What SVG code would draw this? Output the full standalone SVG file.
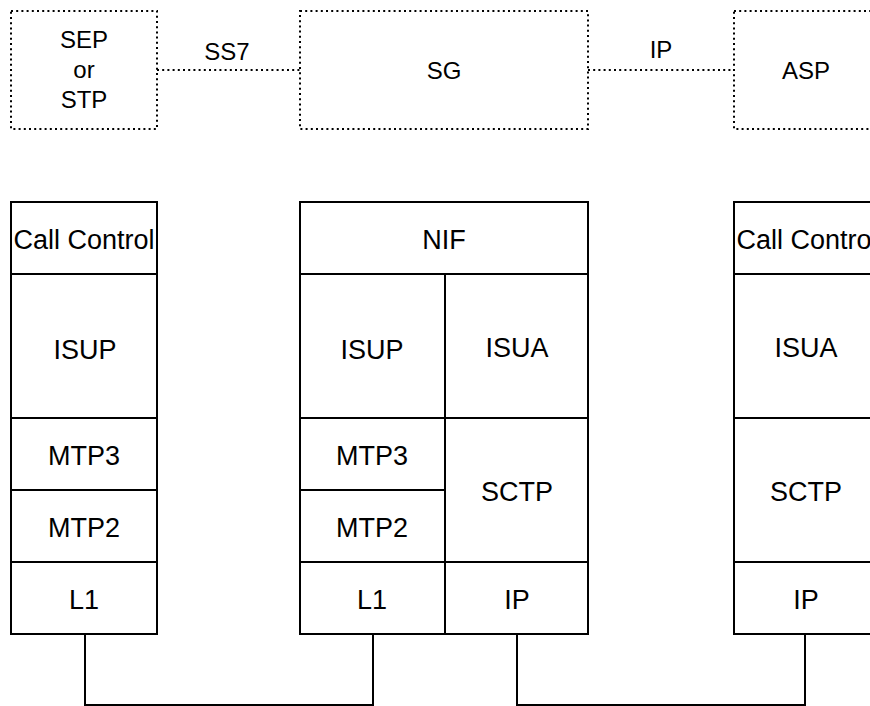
<svg xmlns="http://www.w3.org/2000/svg" width="870" height="706" viewBox="0 0 870 706">
<style>
.dot{fill:none;stroke:#000;stroke-width:2;stroke-dasharray:2 3.2}
.box{fill:#fff;stroke:#000;stroke-width:2}
.ln{fill:none;stroke:#000;stroke-width:2}
text{font-family:"Liberation Sans",Arial,sans-serif;fill:#000;text-anchor:middle}
.t{font-size:24px}
.s{font-size:27px}
</style>
<rect width="870" height="706" fill="#fff"/>
<g id="connectors">
<line class="dot" x1="157" y1="70" x2="300" y2="70"/>
<line class="dot" x1="588" y1="70" x2="734" y2="70"/>
<text class="t" x="227" y="60">SS7</text>
<text class="t" x="661" y="58">IP</text>
<polyline class="ln" points="85,634 85,705 373,705 373,634"/>
<polyline class="ln" points="517,634 517,705 805,705 805,634"/>
</g>
<g id="sep">
<rect class="dot" x="11" y="11" width="146" height="118"/>
<text class="t" x="84" y="48">SEP</text>
<text class="t" x="84" y="78">or</text>
<text class="t" x="84" y="108">STP</text>
</g>
<g id="sg">
<rect class="dot" x="300" y="11" width="288" height="118"/>
<text class="t" x="444" y="79">SG</text>
</g>
<g id="asp">
<rect class="dot" x="734" y="11" width="146" height="118"/>
<text class="t" x="806" y="79">ASP</text>
</g>
<g id="stack-left">
<rect class="box" x="11" y="202" width="146" height="432"/>
<line class="ln" x1="11" y1="274" x2="157" y2="274"/>
<line class="ln" x1="11" y1="418" x2="157" y2="418"/>
<line class="ln" x1="11" y1="490" x2="157" y2="490"/>
<line class="ln" x1="11" y1="562" x2="157" y2="562"/>
<text class="s" x="84" y="249">Call Control</text>
<text class="s" x="85" y="359">ISUP</text>
<text class="s" x="84" y="465">MTP3</text>
<text class="s" x="84" y="537">MTP2</text>
<text class="s" x="84" y="609">L1</text>
</g>
<g id="stack-sg">
<rect class="box" x="300" y="202" width="288" height="432"/>
<line class="ln" x1="300" y1="274" x2="588" y2="274"/>
<line class="ln" x1="445" y1="274" x2="445" y2="634"/>
<line class="ln" x1="300" y1="418" x2="588" y2="418"/>
<line class="ln" x1="300" y1="490" x2="445" y2="490"/>
<line class="ln" x1="300" y1="562" x2="588" y2="562"/>
<text class="s" x="444" y="249">NIF</text>
<text class="s" x="372" y="359">ISUP</text>
<text class="s" x="517" y="357">ISUA</text>
<text class="s" x="372" y="465">MTP3</text>
<text class="s" x="372" y="537">MTP2</text>
<text class="s" x="517" y="501">SCTP</text>
<text class="s" x="372" y="609">L1</text>
<text class="s" x="517" y="609">IP</text>
</g>
<g id="stack-asp">
<rect class="box" x="734" y="202" width="146" height="432"/>
<line class="ln" x1="734" y1="274" x2="880" y2="274"/>
<line class="ln" x1="734" y1="418" x2="880" y2="418"/>
<line class="ln" x1="734" y1="562" x2="880" y2="562"/>
<text class="s" x="807" y="249">Call Control</text>
<text class="s" x="806" y="357">ISUA</text>
<text class="s" x="806" y="501">SCTP</text>
<text class="s" x="806" y="609">IP</text>
</g>
</svg>
